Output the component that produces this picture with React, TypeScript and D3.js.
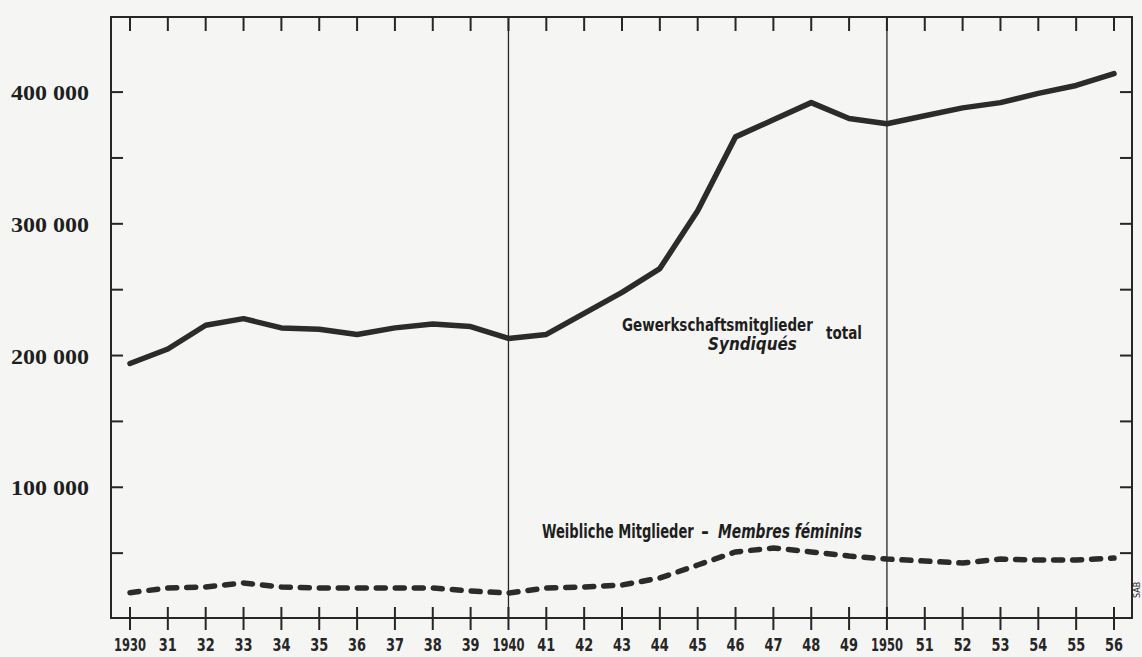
import React, { useLayoutEffect, useRef, useState } from 'react';
import * as d3 from 'd3';

// Gewerkschaftsmitglieder, 1930-1956
const years = d3.range(1930, 1957);
const totalMembers = [
  194000, 205000, 223000, 228000, 221000, 220000, 216000, 221000, 224000, 222000,
  213000, 216000, 232000, 248000, 266000, 310000, 366000, 379000, 392000, 380000,
  376000, 382000, 388000, 392000, 399000, 405000, 414000,
];
const femaleMembers = [
  20000, 23500, 24300, 27300, 24300, 23500, 23500, 23500, 23500, 21300,
  19700, 23500, 24300, 25800, 31100, 41000, 50900, 53900, 50900, 47800,
  45500, 44000, 42500, 45500, 44800, 44800, 46300,
];
const yLabelValues = [100000, 200000, 300000, 400000];
const yTickValues = [50000, 100000, 150000, 200000, 250000, 300000, 350000, 400000];
const dividerYears = [1940, 1950];

const ink = '#262626';
const handFont = '"DejaVu Sans", sans-serif';

// squeeze a text horizontally so that it takes `width` pixels
function FitText(props: any) {
  const { x, y, width, anchor, children, ...rest } = props;
  const ref = useRef<SVGTextElement>(null);
  const [sx, setSx] = useState(1);
  useLayoutEffect(() => {
    if (ref.current) {
      const w = ref.current.getComputedTextLength();
      if (w > 0) setSx(width / w);
    }
  }, [width, children]);
  return (
    <text ref={ref} transform={`translate(${x},${y}) scale(${sx},1)`} textAnchor={anchor || 'start'} {...rest}>
      {children}
    </text>
  );
}

class YearAxis extends React.Component<any> {
  render() {
    const { x, top, bottom } = this.props;
    let ticks = [];
    years.forEach((yr) => {
      ticks.push(<line key={'t' + yr} x1={x(yr)} x2={x(yr)} y1={top} y2={top + 14} />);
      ticks.push(<line key={'b' + yr} x1={x(yr)} x2={x(yr)} y1={bottom - 11} y2={bottom + 12} />);
    });
    let labels = years.map((yr) => {
      const full = yr % 10 === 0;
      const txt = full ? String(yr) : String(yr).substring(2);
      return (
        <FitText key={'l' + yr} x={x(yr)} y={bottom + 33} anchor="middle" width={full ? 32 : 18}
          fontFamily={handFont} fontWeight="bold" fontSize={18.5} fill={ink} stroke="none">{txt}</FitText>
      );
    });
    return <g stroke={ink} strokeWidth={2}>{ticks}{labels}</g>;
  }
}

class ValueAxis extends React.Component<any> {
  render() {
    const { y, left, right } = this.props;
    let ticks = [];
    yTickValues.forEach((v) => {
      ticks.push(<line key={'l' + v} x1={left} x2={left + 12} y1={y(v)} y2={y(v)} />);
      ticks.push(<line key={'r' + v} x1={right - 12} x2={right} y1={y(v)} y2={y(v)} />);
    });
    let labels = yLabelValues.map((v) => (
      <FitText key={'t' + v} x={89} y={y(v) + 8} anchor="end" width={78}
        fontFamily='"Liberation Serif", serif' fontWeight="bold" fontSize={22}
        fill="#1e1e1e" stroke="none">
        {d3.format(',')(v).replace(/,/g, ' ')}
      </FitText>
    ));
    return <g stroke={ink} strokeWidth={2}>{ticks}{labels}</g>;
  }
}

export default function App() {
  const W = 1142, H = 657;
  const left = 111, right = 1132, top = 17, bottom = 618;

  // D3 mathy bits
  const x = d3.scaleLinear().domain([1930, 1956]).range([130, 1114]);
  const y = d3.scaleLinear().domain([0, 457000]).range([619, top]);

  const line = d3.line<number>()
    .x((d, i) => x(years[i]))
    .y((d) => y(d))
    .curve(d3.curveLinear);

  return (
    <svg width={W} height={H} style={{ position: 'fixed', left: 0, top: 0 }}>
      <rect x={0} y={0} width={W} height={H} fill="#f5f5f3" />

      {/* frame */}
      <path d={`M${left},${bottom}V${top}H${right}V${bottom}Z`} fill="none" stroke={ink} strokeWidth={2} />
      {dividerYears.map((yr) => (
        <line key={yr} x1={x(yr)} x2={x(yr)} y1={top} y2={bottom} stroke={ink} strokeWidth={1.3} />
      ))}

      <ValueAxis y={y} left={left} right={right} />
      <YearAxis x={x} top={top} bottom={bottom} />

      <path d={line(totalMembers) || ''} fill="none" stroke="#2b2b2b" strokeWidth={5.5}
        strokeLinejoin="round" strokeLinecap="round" />
      <path d={line(femaleMembers) || ''} fill="none" stroke="#2b2b2b" strokeWidth={5.5}
        strokeDasharray="9,10" strokeLinecap="round" />

      <g fontFamily={handFont} fill="#1e1e1e" fontWeight="bold">
        <FitText x={622} y={331} width={191} fontSize={18}>Gewerkschaftsmitglieder</FitText>
        <FitText x={826} y={339} width={36} fontSize={18}>total</FitText>
        <FitText x={708} y={350} width={89} fontSize={18} fontStyle="italic">Syndiqués</FitText>

        <FitText x={542} y={538} width={152} fontSize={19}>Weibliche Mitglieder</FitText>
        <FitText x={701} y={538} width={8} fontSize={19}>-</FitText>
        <FitText x={718} y={538} width={144} fontSize={19} fontStyle="italic">Membres féminins</FitText>

        <text x={0} y={0} fontSize={8} fontWeight="normal" transform="translate(1140,598) rotate(-90)">SAB</text>
      </g>
    </svg>
  );
}
